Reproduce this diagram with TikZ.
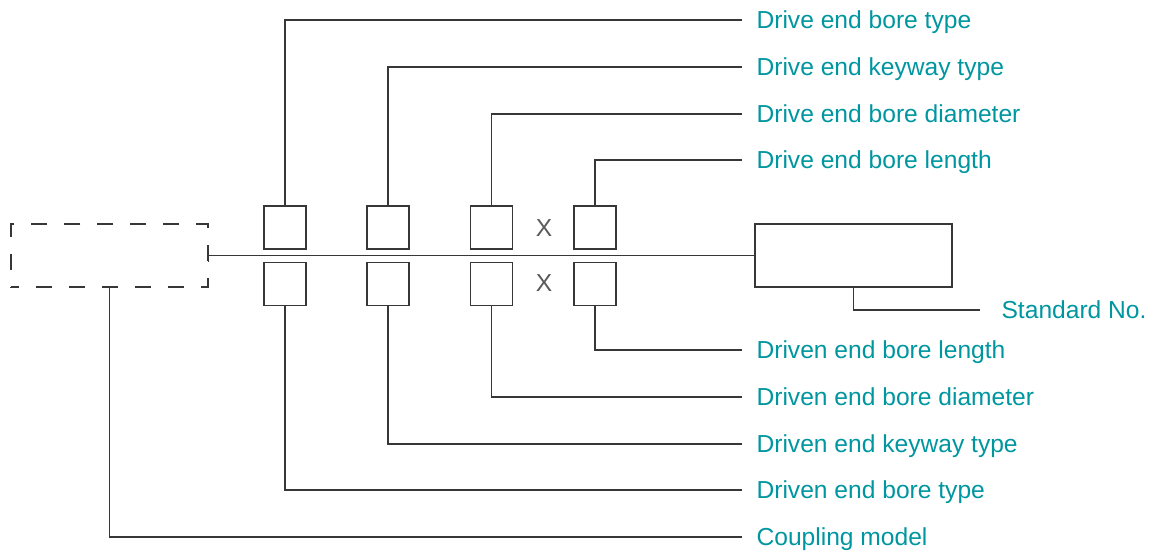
\documentclass[tikz,border=0pt]{standalone}
\usepackage{fontspec}
\setmainfont{Liberation Sans}
\usepackage{tikz}
\usetikzlibrary{arrows.meta}

\definecolor{labelteal}{RGB}{0,150,160}
\definecolor{linegray}{RGB}{55,55,55}
\definecolor{signgray}{RGB}{90,90,90}

\begin{document}
\begin{tikzpicture}[x=0.02cm, y=-0.02cm,
    %Option for lines
    >=Stealth, %
    line width=0.65pt, color=linegray,%
    digit/.style={draw, minimum width=0.84cm, minimum height=0.86cm, inner sep=0pt, outer sep=0pt},
    dashbox/.style={draw, minimum width=3.94cm, minimum height=1.26cm, inner sep=0pt, outer sep=0pt,
        dash pattern=on 0.33cm off 0.33cm, dash phase=0.165cm},
    stdbox/.style={draw, minimum width=3.94cm, minimum height=1.26cm, inner sep=0pt, outer sep=0pt},
    lbl/.style={anchor=west, text=labelteal, font=\fontsize{14}{16}\selectfont,
        inner xsep=0.28cm, inner ysep=0pt, text height=0.95em, text depth=0pt},
    sign/.style={text=signgray, font=\fontsize{14}{16}\selectfont, inner sep=0pt},
]
    \useasboundingbox (0,0) rectangle (1151,553);

    % Code boxes
    \foreach \n/\x in {1/285,2/388,3/491.5,4/595}{
        \node[digit] (u\n) at (\x,227.5) {};
        \node[digit] (l\n) at (\x,284) {};
    }
    \node[sign] (xu) at (544,228) {X};
    \node[sign] (xl) at (544,283) {X};

    \node[dashbox] (model) at (109.5,255.5) {};
    \node[stdbox] (std) at (853.5,255.5) {};

    % Labels
    \node[lbl] (t1) at (742,20) {Drive end bore type};
    \node[lbl] (t2) at (742,67) {Drive end keyway type};
    \node[lbl] (t3) at (742,114) {Drive end bore diameter};
    \node[lbl] (t4) at (742,160) {Drive end bore length};
    \node[lbl, inner xsep=0.42cm] (sn) at (980,310) {Standard No.};
    \node[lbl] (b4) at (742,350) {Driven end bore length};
    \node[lbl] (b3) at (742,397) {Driven end bore diameter};
    \node[lbl] (b2) at (742,444) {Driven end keyway type};
    \node[lbl] (b1) at (742,490) {Driven end bore type};
    \node[lbl] (cm) at (742,537) {Coupling model};

    % Leaders
    \foreach \n in {1,...,4}{
        \draw (u\n.north) |- (t\n.west);
        \draw (l\n.south) |- (b\n.west);
    }
    \draw (model.south) |- (cm.west);
    \draw (std.south) |- (sn.west);
    \draw[{Bar[width=0.26cm]}-] (model.east) -- (std.west);

\end{tikzpicture}
\end{document}
